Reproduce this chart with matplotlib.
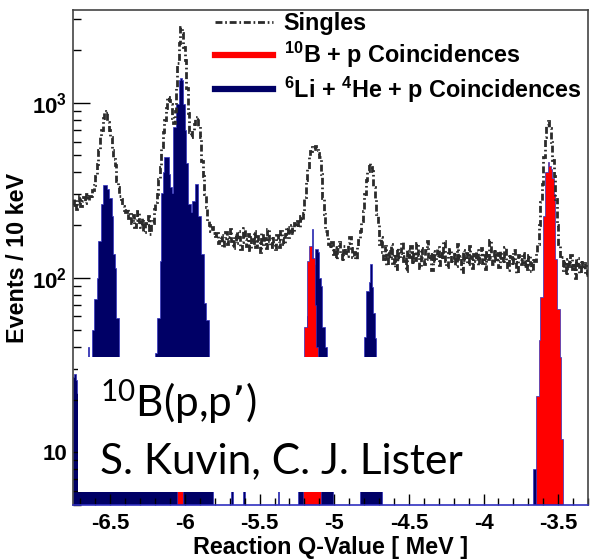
import matplotlib
matplotlib.use("Agg")
import matplotlib.pyplot as plt
import numpy as np
from matplotlib.lines import Line2D
from matplotlib.patches import Rectangle
from matplotlib.ticker import (FixedFormatter, FixedLocator, FuncFormatter,
                               LogLocator, MultipleLocator, NullFormatter)

plt.rcParams['font.family'] = ['Liberation Sans', 'DejaVu Sans']
plt.rcParams['font.weight'] = 'bold'
plt.rcParams['mathtext.default'] = 'regular'
plt.rcParams['axes.unicode_minus'] = False

# 10 keV bins starting at Q = -6.75 MeV
q_first = -6.75
bin_width = 0.01

# singles, events per bin
singles = [
    262, 281, 248, 270, 295, 258, 276, 289, 266, 301, 279, 292, 285, 318, 340,
    384, 445, 535, 640, 697, 815, 885, 895, 780, 700, 640, 535, 480, 439, 359,
    330, 295, 280, 258, 245, 236, 248, 220, 232, 205, 228, 196, 214, 240, 208,
    195, 218, 182, 206, 199, 226, 178, 212, 205, 248, 270, 300, 365, 430, 556,
    680, 795, 940, 1075, 1040, 990, 820, 770, 900, 1220, 1700, 2200, 2700, 2500, 2100,
    1750, 1220, 870, 680, 640, 700, 760, 820, 830, 740, 634, 468, 380, 300, 252,
    212, 200, 186, 195, 180, 172, 180, 158, 163, 175, 150, 168, 182, 155, 170,
    190, 162, 148, 176, 158, 184, 171, 145, 160, 192, 166, 152, 178, 143, 170,
    158, 185, 149, 172, 163, 140, 180, 155, 168, 147, 190, 161, 150, 174, 158,
    145, 176, 162, 150, 185, 168, 155, 178, 195, 170, 186, 200, 180, 205, 198,
    210, 196, 225, 215, 235, 290, 360, 420, 487, 530, 560, 545, 565, 540, 520,
    487, 394, 287, 230, 186, 170, 156, 148, 160, 137, 150, 128, 145, 160, 138,
    125, 152, 140, 133, 158, 170, 148, 132, 140, 128, 150, 165, 186, 210, 242,
    300, 360, 410, 450, 427, 410, 330, 287, 230, 204, 156, 170, 140, 128, 152,
    118, 142, 130, 155, 121, 136, 112, 148, 127, 139, 160, 124, 133, 109, 145,
    131, 152, 119, 140, 126, 158, 135, 113, 147, 129, 120, 144, 163, 128, 137,
    110, 142, 125, 134, 150, 118, 139, 128, 161, 124, 115, 138, 146, 122, 130,
    141, 117, 155, 127, 133, 108, 144, 126, 139, 120, 152, 131, 114, 137, 125,
    143, 118, 130, 148, 121, 135, 112, 140, 127, 165, 132, 119, 146, 124, 138,
    115, 142, 129, 121, 150, 126, 110, 137, 131, 118, 144, 123, 106, 134, 127,
    120, 139, 116, 128, 112, 135, 122, 109, 130, 124, 140, 156, 200, 270, 345,
    487, 634, 745, 790, 720, 600, 470, 380, 280, 200, 155, 130, 132, 110, 125,
    104, 128, 116, 135, 112, 121, 99, 130, 118, 107, 126, 114, 122, 103, 117,
]

# 6Li + 4He + p coincidences (segments given by their first bin's Q value)
li_low_q = -6.75
li_low = [27, 28, 26, 22, 18, 15, 17, 20, 24, 30,
          40, 28, 33, 50, 75, 75, 99, 163, 163, 265,
          341, 341, 341, 320, 287, 287, 226, 137, 113, 59,
          59, 30, 22, 18, 14, 12, 10, 9, 8, 7,
          8, 6, 7, 9, 8, 10, 12, 9, 11, 14,
          16, 18, 22, 26, 30, 37, 59, 59, 125, 307,
          400, 487, 487, 487, 394, 330, 307, 723, 723, 990,
          990, 1346, 1380, 1346, 990, 700, 450, 265, 265, 236,
          276, 276, 345, 345, 226, 226, 137, 137, 72, 57,
          57, 25, 14, 8]
li_spike_q = [-5.69, -5.61, -5.38]
li_spike = [6, 6, 6]
li_mid_q = -5.24
li_mid = [7, 9, 12, 18, 25, 35, 60, 90, 110, 191, 120, 145, 145, 140, 100,
          90, 52, 52, 40, 20, 12, 8, 6]
li_475_q = -4.83
li_475 = [10, 20, 30, 46, 84, 84, 95, 120, 88, 63, 45, 30, 15, 10, 7]
li_hi_q = -3.67
li_hi = [8, 8]

# 10B + p coincidences
b10_low_q = -6.05
b10_low = [6, 9, 8, 6]
b10_mid_q = -5.21
b10_mid = [8, 52, 52, 125, 152, 152, 130, 130, 70, 40, 20, 10]
b10_hi_q = -3.65
b10_hi = [21, 21, 44, 77, 77, 226, 400, 400, 456, 438, 420, 370, 300, 128,
          66, 66, 35, 12]

n_bins = len(singles)
edges = q_first + bin_width * np.arange(n_bins + 1)


def bin_of(q):
    return int(round((q - q_first) / bin_width))


def fill_segments(pieces):
    h = np.zeros(n_bins)
    for q0, counts in pieces:
        i = bin_of(q0)
        h[i:i + len(counts)] = counts
    return h


li = fill_segments([(li_low_q, li_low), (li_mid_q, li_mid),
                    (li_475_q, li_475), (li_hi_q, li_hi)])
for q, c in zip(li_spike_q, li_spike):
    li[bin_of(q)] = c
b10 = fill_segments([(b10_low_q, b10_low), (b10_mid_q, b10_mid),
                     (b10_hi_q, b10_hi)])

floor = 1.0
fig = plt.figure(figsize=(5.9, 5.59), dpi=100)
ax = fig.add_axes([73 / 590, 1 - 505 / 559, 515 / 590, 495 / 559])
ax.set_yscale('log')

edge_blue = '#3030c0'
ax.stairs(np.where(li > 0, li, floor), edges, baseline=floor, fill=True,
          facecolor='#000066', edgecolor=edge_blue, lw=0.5)
ax.stairs(np.where(b10 > 0, b10, floor), edges, baseline=floor, fill=True,
          facecolor='#ff0000', edgecolor=edge_blue, lw=0.5)
dashdot = (0, (2.5, 1.0, 0.6, 1.0))
ax.stairs(singles, edges, baseline=None, color='#2b2b2b', lw=2.0,
          linestyle=dashdot, zorder=3)

ax.set_xlim(-6.75, -3.3)
ax.set_ylim(5, 3400)

# white label box over the lower part of the frame
ax.add_patch(Rectangle((0.0097, 0.0263), 0.877, 0.273, transform=ax.transAxes,
                       facecolor='white', edgecolor='none', zorder=2.2))

ax.xaxis.set_major_locator(MultipleLocator(0.5))
ax.xaxis.set_major_formatter(FuncFormatter(lambda v, pos: f'{v:g}'))
ax.xaxis.set_minor_locator(MultipleLocator(0.1))
ax.yaxis.set_major_locator(FixedLocator([10, 100, 1000]))
ax.yaxis.set_major_formatter(FixedFormatter(['10', '$10^{2}$', '$10^{3}$']))
ax.yaxis.set_minor_locator(LogLocator(base=10, subs=np.arange(2, 10)))
ax.yaxis.set_minor_formatter(NullFormatter())
ax.tick_params(axis='x', which='major', direction='in', length=8, width=1,
               labelsize=16, pad=6)
ax.tick_params(axis='x', which='minor', direction='in', length=5, width=1)
ax.tick_params(axis='y', which='major', direction='in', length=12, width=1,
               labelsize=16, pad=4)
ax.tick_params(axis='y', which='minor', direction='in', length=6, width=1)

for side in ['left', 'top', 'right']:
    ax.spines[side].set_color('#444444')
    ax.spines[side].set_linewidth(1.2)
ax.spines['bottom'].set_color(edge_blue)
ax.spines['bottom'].set_linewidth(1.2)

ax.set_xlabel('Reaction Q-Value [ MeV ]', fontsize=16.8, fontweight='bold',
              va='top')
ax.xaxis.set_label_coords(0.5, -0.063)
ax.set_ylabel('Events / 10 keV', fontsize=16.8, fontweight='bold')
ax.yaxis.set_label_coords(-0.085, 0.5)

handles = [
    Line2D([], [], color='#2b2b2b', lw=2.0, linestyle=dashdot),
    Line2D([], [], color='#ff0000', lw=4.5),
    Line2D([], [], color='#000066', lw=4.5),
]
labels = ['Singles', '$^{10}$B + p Coincidences',
          '$^{6}$Li + $^{4}$He + p Coincidences']
ax.legend(handles, labels, loc='upper left', bbox_to_anchor=(215 / 590, 1 - 12 / 559),
          bbox_transform=fig.transFigure, frameon=False, fontsize=16.8,
          handlelength=2.5, handletextpad=0.45, labelspacing=0.2,
          borderaxespad=0, borderpad=0)

box_font = dict(family=['Lato', 'DejaVu Sans'], fontweight='normal', fontsize=30.5,
                va='baseline', ha='left')
fig.text(100 / 590, 1 - 417 / 559, '$^{10}$B(p,p’)', **box_font)
fig.text(100 / 590, 1 - 473 / 559, 'S. Kuvin, C. J. Lister', **box_font)

fig.savefig('out.png', dpi=100)
